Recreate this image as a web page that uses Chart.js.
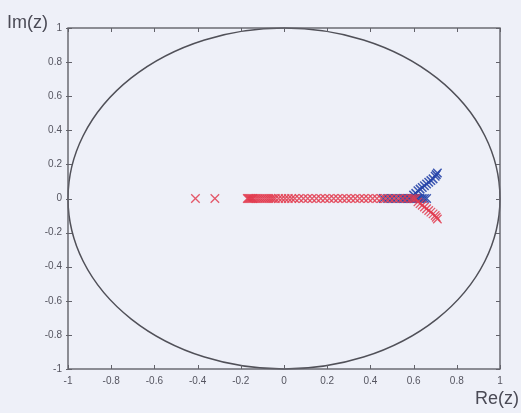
<!DOCTYPE html>
<html><head><meta charset="utf-8">
<style>html,body{margin:0;padding:0;background:#eef0f8;}#wrap{width:521px;height:413px;}</style>
<script src="https://cdn.jsdelivr.net/npm/chart.js@4/dist/chart.umd.min.js"></script>
</head><body><div id="wrap"><canvas id="c" width="521" height="413"></canvas></div>
<script>
const xTicks = [-1,-0.8,-0.6,-0.4,-0.2,0,0.2,0.4,0.6,0.8,1];
const yTicks = [-1,-0.8,-0.6,-0.4,-0.2,0,0.2,0.4,0.6,0.8,1];
const xTitle = "Re(z)";
const yTitle = "Im(z)";
// red poles along the real axis
const redAxisRe = [-0.41,-0.32,-0.17,-0.165,-0.16,-0.155,-0.15,-0.145,-0.14,-0.13,-0.12,-0.11,-0.10,-0.09,-0.08,-0.07,-0.06,-0.05,-0.04,-0.025,-0.01,0.005,0.02,0.035,0.05,0.07,0.09,0.11,0.13,0.15,0.17,0.19,0.21,0.23,0.25,0.27,0.29,0.31,0.33,0.35,0.37,0.39,0.41,0.43,0.45,0.47,0.49,0.51,0.53,0.55,0.57,0.59,0.60,0.61];
// red branch going below the axis
const redBranchRe = [0.62,0.63,0.64,0.65,0.66,0.67,0.68,0.69,0.70,0.705,0.71];
const redBranchIm = [-0.02,-0.03,-0.04,-0.05,-0.06,-0.07,-0.08,-0.09,-0.10,-0.11,-0.12];
// blue poles along the axis
const blueAxisRe = [0.46,0.48,0.50,0.52,0.54,0.55,0.56,0.57,0.58,0.59,0.60,0.61,0.62,0.63,0.64,0.65,0.66];
// blue branch going above the axis
const blueBranchRe = [0.60,0.61,0.62,0.63,0.64,0.65,0.66,0.67,0.68,0.69,0.70,0.705,0.71];
const blueBranchIm = [0.02,0.03,0.045,0.055,0.065,0.075,0.085,0.095,0.105,0.115,0.13,0.14,0.15];

const redPts = redAxisRe.map(x=>({x:x,y:0})).concat(redBranchRe.map((x,i)=>({x:x,y:redBranchIm[i]})));
const bluePts = blueAxisRe.map(x=>({x:x,y:0})).concat(blueBranchRe.map((x,i)=>({x:x,y:blueBranchIm[i]})));

const FRAME = '#62626a';
const framePlugin = {
  id:'frame',
  beforeDatasetsDraw(chart){
    const {ctx, chartArea:a, scales:{x,y}} = chart;
    ctx.save();
    const cx = x.getPixelForValue(0), cy = y.getPixelForValue(0);
    const rx = x.getPixelForValue(1)-cx, ry = cy - y.getPixelForValue(1);
    ctx.strokeStyle = '#505058'; ctx.lineWidth = 1.5;
    ctx.beginPath(); ctx.ellipse(cx,cy,rx,ry,0,0,Math.PI*2); ctx.stroke();
    ctx.restore();
  },
  afterDatasetsDraw(chart){
    const {ctx, chartArea:a, scales:{x,y}} = chart;
    ctx.save();
    ctx.strokeStyle = FRAME; ctx.lineWidth = 1.4;
    ctx.strokeRect(a.left, a.top, a.right-a.left, a.bottom-a.top);
    ctx.lineWidth = 1;
    const L=4;
    ctx.beginPath();
    xTicks.forEach(v=>{const px=Math.round(x.getPixelForValue(v))+0.5;
      ctx.moveTo(px,a.bottom); ctx.lineTo(px,a.bottom-L);
      ctx.moveTo(px,a.top); ctx.lineTo(px,a.top+L);});
    yTicks.forEach(v=>{const py=Math.round(y.getPixelForValue(v))+0.5;
      ctx.moveTo(a.left-2,py); ctx.lineTo(a.left+L,py);
      ctx.moveTo(a.right,py); ctx.lineTo(a.right-L,py);});
    ctx.stroke();
    ctx.fillStyle = '#4a4a55';
    ctx.font = '18px "Liberation Sans", Arial, sans-serif';
    ctx.textBaseline = 'alphabetic';
    ctx.textAlign = 'left';
    ctx.fillText(yTitle, 7, 28);
    ctx.textAlign = 'right';
    ctx.fillText(xTitle, 519, 404);
    ctx.restore();
  }
};

new Chart(document.getElementById('c'), {
  type:'scatter',
  data:{datasets:[
    {label:'red', data:redPts, pointStyle:'crossRot', pointRadius:6, borderColor:'rgba(226,60,80,0.85)', backgroundColor:'rgba(226,60,80,0.85)', pointBorderWidth:1.3},
    {label:'blue', data:bluePts, pointStyle:'crossRot', pointRadius:6, borderColor:'rgba(40,70,170,0.9)', backgroundColor:'rgba(40,70,170,0.9)', pointBorderWidth:1.5}
  ]},
  options:{
    responsive:false, animation:false,
    layout:{padding:{left:0,top:28,right:21,bottom:0}},
    plugins:{legend:{display:false}, tooltip:{enabled:false}},
    scales:{
      x:{type:'linear', min:-1, max:1,
        afterBuildTicks(s){s.ticks = xTicks.map(v=>({value:v}));},
        afterFit(s){s.height = 44;},
        grid:{display:false, drawTicks:false}, border:{display:false},
        ticks:{padding:6, color:'#555560', font:{size:10, family:'"Liberation Sans", Arial, sans-serif'}, maxRotation:0,
          callback:v=>String(v)}},
      y:{type:'linear', min:-1, max:1,
        afterBuildTicks(s){s.ticks = yTicks.map(v=>({value:v}));},
        afterFit(s){s.width = 68;},
        grid:{display:false, drawTicks:false}, border:{display:false},
        ticks:{padding:6, color:'#555560', font:{size:10, family:'"Liberation Sans", Arial, sans-serif'},
          callback:v=>String(v)}}
    }
  },
  plugins:[framePlugin]
});
</script></body></html>
